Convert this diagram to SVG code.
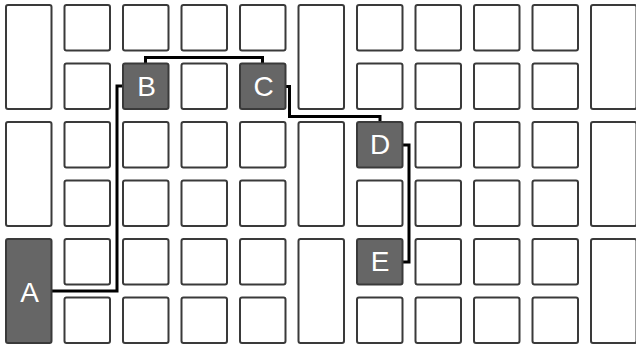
<svg xmlns="http://www.w3.org/2000/svg" width="636" height="345" viewBox="0 0 636 345">
<style>
.c{fill:#fff;stroke:#3a3a3a;stroke-width:2}
.n{fill:#666;stroke:#3a3a3a;stroke-width:2}
.t{fill:#fff;font-family:"Liberation Sans",Arial,sans-serif;font-size:28px;text-anchor:middle}
.l{fill:none;stroke:#000;stroke-width:3;stroke-linejoin:miter}
</style>
<rect width="636" height="345" fill="#fff"/>
<g id="grid">
<rect class="c" x="6" y="5" width="45.5" height="104" rx="2"/>
<rect class="c" x="6" y="122" width="45.5" height="104" rx="2"/>
<rect class="c" x="298.5" y="5" width="45.5" height="104" rx="2"/>
<rect class="c" x="298.5" y="122" width="45.5" height="104" rx="2"/>
<rect class="c" x="298.5" y="239" width="45.5" height="104" rx="2"/>
<rect class="c" x="591" y="5" width="45.5" height="104" rx="2"/>
<rect class="c" x="591" y="122" width="45.5" height="104" rx="2"/>
<rect class="c" x="591" y="239" width="45.5" height="104" rx="2"/>
<rect class="c" x="64.5" y="5" width="45.5" height="45.5" rx="2"/>
<rect class="c" x="123" y="5" width="45.5" height="45.5" rx="2"/>
<rect class="c" x="181.5" y="5" width="45.5" height="45.5" rx="2"/>
<rect class="c" x="240" y="5" width="45.5" height="45.5" rx="2"/>
<rect class="c" x="357" y="5" width="45.5" height="45.5" rx="2"/>
<rect class="c" x="415.5" y="5" width="45.5" height="45.5" rx="2"/>
<rect class="c" x="474" y="5" width="45.5" height="45.5" rx="2"/>
<rect class="c" x="532.5" y="5" width="45.5" height="45.5" rx="2"/>
<rect class="c" x="64.5" y="63.5" width="45.5" height="45.5" rx="2"/>
<rect class="c" x="181.5" y="63.5" width="45.5" height="45.5" rx="2"/>
<rect class="c" x="357" y="63.5" width="45.5" height="45.5" rx="2"/>
<rect class="c" x="415.5" y="63.5" width="45.5" height="45.5" rx="2"/>
<rect class="c" x="474" y="63.5" width="45.5" height="45.5" rx="2"/>
<rect class="c" x="532.5" y="63.5" width="45.5" height="45.5" rx="2"/>
<rect class="c" x="64.5" y="122" width="45.5" height="45.5" rx="2"/>
<rect class="c" x="123" y="122" width="45.5" height="45.5" rx="2"/>
<rect class="c" x="181.5" y="122" width="45.5" height="45.5" rx="2"/>
<rect class="c" x="240" y="122" width="45.5" height="45.5" rx="2"/>
<rect class="c" x="415.5" y="122" width="45.5" height="45.5" rx="2"/>
<rect class="c" x="474" y="122" width="45.5" height="45.5" rx="2"/>
<rect class="c" x="532.5" y="122" width="45.5" height="45.5" rx="2"/>
<rect class="c" x="64.5" y="180.5" width="45.5" height="45.5" rx="2"/>
<rect class="c" x="123" y="180.5" width="45.5" height="45.5" rx="2"/>
<rect class="c" x="181.5" y="180.5" width="45.5" height="45.5" rx="2"/>
<rect class="c" x="240" y="180.5" width="45.5" height="45.5" rx="2"/>
<rect class="c" x="357" y="180.5" width="45.5" height="45.5" rx="2"/>
<rect class="c" x="415.5" y="180.5" width="45.5" height="45.5" rx="2"/>
<rect class="c" x="474" y="180.5" width="45.5" height="45.5" rx="2"/>
<rect class="c" x="532.5" y="180.5" width="45.5" height="45.5" rx="2"/>
<rect class="c" x="64.5" y="239" width="45.5" height="45.5" rx="2"/>
<rect class="c" x="123" y="239" width="45.5" height="45.5" rx="2"/>
<rect class="c" x="181.5" y="239" width="45.5" height="45.5" rx="2"/>
<rect class="c" x="240" y="239" width="45.5" height="45.5" rx="2"/>
<rect class="c" x="415.5" y="239" width="45.5" height="45.5" rx="2"/>
<rect class="c" x="474" y="239" width="45.5" height="45.5" rx="2"/>
<rect class="c" x="532.5" y="239" width="45.5" height="45.5" rx="2"/>
<rect class="c" x="64.5" y="297.5" width="45.5" height="45.5" rx="2"/>
<rect class="c" x="123" y="297.5" width="45.5" height="45.5" rx="2"/>
<rect class="c" x="181.5" y="297.5" width="45.5" height="45.5" rx="2"/>
<rect class="c" x="240" y="297.5" width="45.5" height="45.5" rx="2"/>
<rect class="c" x="357" y="297.5" width="45.5" height="45.5" rx="2"/>
<rect class="c" x="415.5" y="297.5" width="45.5" height="45.5" rx="2"/>
<rect class="c" x="474" y="297.5" width="45.5" height="45.5" rx="2"/>
<rect class="c" x="532.5" y="297.5" width="45.5" height="45.5" rx="2"/>
</g>
<g id="connectors">
<path class="l" d="M51.5,291 H117 V86 H123"/>
<path class="l" d="M145.5,63.5 V57.5 H262.5 V63.5"/>
<path class="l" d="M285.5,86.5 H289.5 V116.5 H380 V122"/>
<path class="l" d="M402.5,145 H409 V262 H402.5"/>
</g>
<g id="A"><rect class="n" x="6" y="239" width="45.5" height="104" rx="2"/><text class="t" x="29.5" y="301.5">A</text></g>
<g id="B"><rect class="n" x="123" y="63.5" width="45.5" height="45.5" rx="2"/><text class="t" x="146.5" y="95.5">B</text></g>
<g id="C"><rect class="n" x="240" y="63.5" width="45.5" height="45.5" rx="2"/><text class="t" x="263.5" y="95.5">C</text></g>
<g id="D"><rect class="n" x="357" y="122" width="45.5" height="45.5" rx="2"/><text class="t" x="380" y="154">D</text></g>
<g id="E"><rect class="n" x="357" y="239" width="45.5" height="45.5" rx="2"/><text class="t" x="380" y="271">E</text></g>
</svg>
